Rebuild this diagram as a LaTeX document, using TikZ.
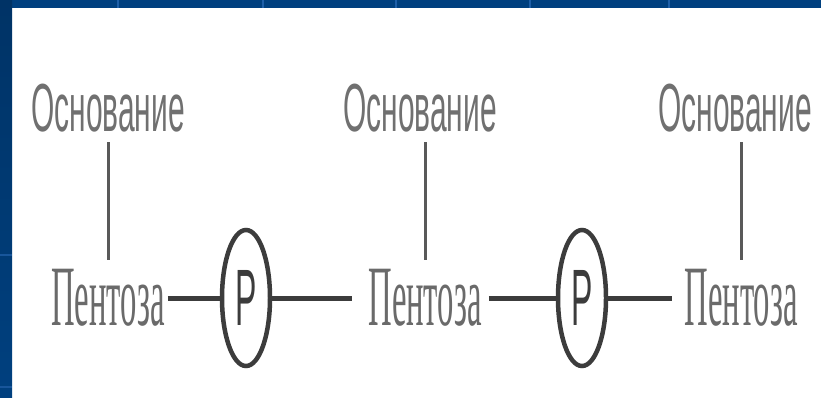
\documentclass[tikz,border=0pt]{standalone}
\usepackage{fontspec}
\usepackage{graphicx}
\setmainfont{Liberation Serif}
\setsansfont{Liberation Sans}
\usetikzlibrary{shapes.geometric}

\definecolor{slideblue}{HTML}{00407F}
\definecolor{slidedark}{HTML}{003366}
\definecolor{slidegrid}{HTML}{1E5FA8}
\definecolor{textgrey}{HTML}{707070}
\definecolor{linegrey}{HTML}{3C3C3C}

\begin{document}
\begin{tikzpicture}[x=1pt, y=-1pt,
		base node/.style={inner xsep=3pt, inner ysep=10pt, text=textgrey, font=\sffamily\fontsize{68}{68}\selectfont},
		pent node/.style={inner xsep=3pt, inner ysep=9pt, text=textgrey!95!black, font=\rmfamily\fontsize{86}{86}\selectfont},
		phos node/.style={ellipse, draw=linegrey, line width=4.5pt, minimum width=48pt, minimum height=136pt, inner sep=0pt, text=linegrey, font=\sffamily\fontsize{80}{80}\selectfont},
		bond/.style={draw=linegrey, line width=5pt},
		stem/.style={draw=linegrey!85, line width=3pt}]
			
			\useasboundingbox (0,0) rectangle (821,397);
			\fill[white] (0,0) rectangle (821,397);
			\fill[slideblue] (0,0) rectangle (821,8);
			\shade[bottom color=slideblue, top color=slidedark] (0,0) rectangle (12,397);
			\foreach \gx in {118,263,396,530,669}
				\draw[slidegrid, line width=2.5pt] (\gx,0) -- (\gx,8);
			\foreach \gy in {255,387}
				\draw[slidegrid!80!slidedark, line width=2pt] (0,\gy) -- (12,\gy);
			
			\node[base node] (b1) at (108,108) {\scalebox{0.44}[1]{Основание}};
			\node[base node] (b2) at (420,108) {\scalebox{0.44}[1]{Основание}};
			\node[base node] (b3) at (735,108) {\scalebox{0.44}[1]{Основание}};
			\node[pent node] (p1) at (108,298) {\scalebox{0.38}[1]{Пентоза}};
			\node[pent node] (p2) at (425,298) {\scalebox{0.38}[1]{Пентоза}};
			\node[pent node] (p3) at (741,298) {\scalebox{0.38}[1]{Пентоза}};
			\node[phos node] (f1) at (246,298) {\scalebox{0.4}[1]{P}};
			\node[phos node] (f2) at (582,298) {\scalebox{0.4}[1]{P}};
			
			\draw[stem] (p1.north |- b1.south) -- (p1.north);
			\draw[stem] (p2.north |- b2.south) -- (p2.north);
			\draw[stem] (p3.north |- b3.south) -- (p3.north);
			
			\draw[bond] (p1.east) -- (f1.west);
			\draw[bond, shorten >=13pt] (f1.east) -- (p2.west);
			\draw[bond, shorten <=4pt] (p2.east) -- (f2.west);
			\draw[bond, shorten >=9pt] (f2.east) -- (p3.west);
			
			\end{tikzpicture}
\end{document}
